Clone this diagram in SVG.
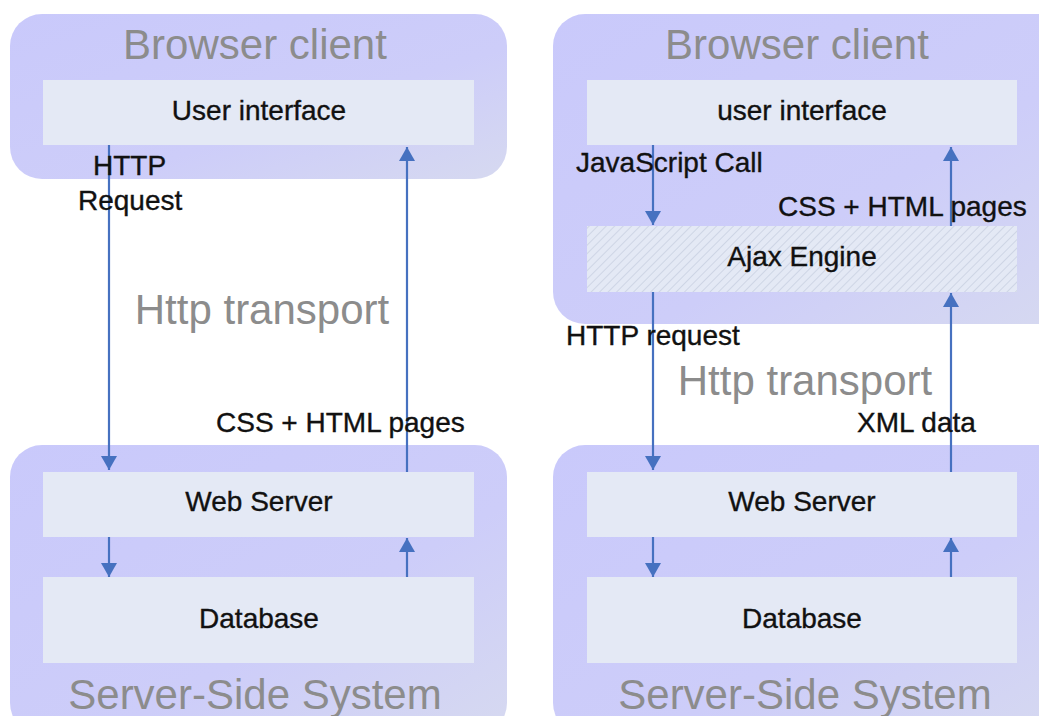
<svg xmlns="http://www.w3.org/2000/svg" width="1039" height="716" viewBox="0 0 1039 716">
<style>
.outer{fill:url(#og)}
.inner{fill:#e4e9f5}
.title{font-family:"Liberation Sans",Arial,sans-serif;font-size:42px;fill:#8c8c8c;text-anchor:middle}
.lbl{font-family:"Liberation Sans",Arial,sans-serif;font-size:28px;fill:#111;stroke:#111;stroke-width:0.35}
.c{text-anchor:middle}
.arr{stroke:#4671c0;stroke-width:2.2;fill:none;marker-end:url(#ah)}
</style>
<defs>
<linearGradient id="og" x1="0" y1="0" x2="1" y2="1">
<stop offset="0" stop-color="#c9c9fb"/>
<stop offset="0.6" stop-color="#cdcdf9"/>
<stop offset="1" stop-color="#d6d9f0"/>
</linearGradient>
<pattern id="hatch" width="6" height="6" patternUnits="userSpaceOnUse" patternTransform="rotate(45)">
<rect width="6" height="6" fill="#e4e9f5"/>
<line x1="0" y1="0" x2="0" y2="6" stroke="#c9d0e2" stroke-width="1.6"/>
</pattern>
<marker id="ah" viewBox="0 0 14 16" refX="14" refY="8" markerWidth="14" markerHeight="16" markerUnits="userSpaceOnUse" orient="auto">
<path d="M0,0 L14,8 L0,16 z" fill="#4671c0"/>
</marker>
</defs>
<rect width="1039" height="716" fill="#ffffff"/>

<g id="left-browser">
<rect class="outer" x="10" y="14" width="497" height="165" rx="32"/>
<text class="title" x="255" y="59">Browser client</text>
</g>
<g id="left-ui">
<rect class="inner" x="43" y="80" width="431" height="65"/>
<text class="lbl c" x="259" y="120">User interface</text>
</g>
<g id="left-server">
<rect class="outer" x="10" y="445" width="497" height="290" rx="32"/>
<text class="title" x="255" y="709">Server-Side System</text>
</g>
<g id="left-web">
<rect class="inner" x="43" y="472" width="431" height="65"/>
<text class="lbl c" x="259" y="511">Web Server</text>
</g>
<g id="left-db">
<rect class="inner" x="43" y="577" width="431" height="86"/>
<text class="lbl c" x="259" y="628">Database</text>
</g>
<text class="title" x="262" y="324">Http transport</text>

<g id="right-browser">
<rect class="outer" x="553" y="14" width="520" height="310" rx="32"/>
<text class="title" x="797" y="59">Browser client</text>
</g>
<g id="right-ui">
<rect class="inner" x="587" y="80" width="430" height="65"/>
<text class="lbl c" x="802" y="120">user interface</text>
</g>
<g id="right-ajax">
<rect x="587" y="226" width="430" height="66" fill="url(#hatch)"/>
<text class="lbl c" x="802" y="266">Ajax Engine</text>
</g>
<g id="right-server">
<rect class="outer" x="553" y="445" width="520" height="290" rx="32"/>
<text class="title" x="805" y="709">Server-Side System</text>
</g>
<g id="right-web">
<rect class="inner" x="587" y="472" width="430" height="65"/>
<text class="lbl c" x="802" y="511">Web Server</text>
</g>
<g id="right-db">
<rect class="inner" x="587" y="577" width="430" height="86"/>
<text class="lbl c" x="802" y="628">Database</text>
</g>
<text class="title" x="805" y="395">Http transport</text>

<g id="connectors">
<line class="arr" x1="109" y1="145" x2="109" y2="470"/>
<line class="arr" x1="407" y1="472" x2="407" y2="147"/>
<line class="arr" x1="109" y1="537" x2="109" y2="577"/>
<line class="arr" x1="407" y1="577" x2="407" y2="538"/>
<line class="arr" x1="653" y1="145" x2="653" y2="225"/>
<line class="arr" x1="951" y1="226" x2="951" y2="147"/>
<line class="arr" x1="653" y1="292" x2="653" y2="470"/>
<line class="arr" x1="951" y1="472" x2="951" y2="293"/>
<line class="arr" x1="653" y1="537" x2="653" y2="577"/>
<line class="arr" x1="951" y1="577" x2="951" y2="538"/>
</g>

<g id="labels">
<text class="lbl" x="93" y="175">HTTP</text>
<text class="lbl" x="78" y="210">Request</text>
<text class="lbl" x="216" y="432">CSS + HTML pages</text>
<text class="lbl" x="576" y="172">JavaScript Call</text>
<text class="lbl" x="778" y="216">CSS + HTML pages</text>
<text class="lbl" x="566" y="345">HTTP request</text>
<text class="lbl" x="857" y="432">XML data</text>
</g>
</svg>
